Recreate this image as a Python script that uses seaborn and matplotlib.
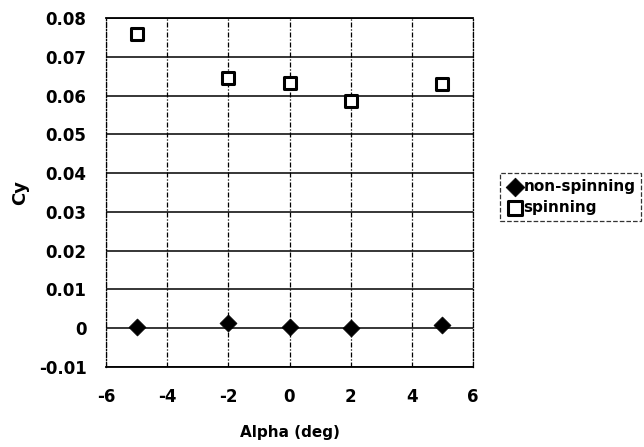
import matplotlib
matplotlib.use("Agg")
import matplotlib.pyplot as plt
import seaborn as sns
import pandas as pd

alpha = [-5, -2, 0, 2, 5]
cy_nonspin = [0.0003, 0.0014, 0.0002, 0.0000, 0.0009]
cy_spin = [0.0760, 0.0645, 0.0633, 0.0587, 0.0630]
series = ["non-spinning", "spinning"]
xticks = [-6, -4, -2, 0, 2, 4, 6]
yticks = [-0.01, 0, 0.01, 0.02, 0.03, 0.04, 0.05, 0.06, 0.07, 0.08]
ytick_labels = ["-0.01", "0", "0.01", "0.02", "0.03", "0.04", "0.05", "0.06", "0.07", "0.08"]

sns.set_style("white")
plt.rcParams["font.family"] = ["DejaVu Sans"]
plt.rcParams["font.weight"] = "bold"
plt.rcParams["text.color"] = "black"
plt.rcParams["xtick.color"] = "black"
plt.rcParams["ytick.color"] = "black"
plt.rcParams["axes.labelcolor"] = "black"

fig = plt.figure(figsize=(6.44, 4.47), dpi=100)
ax = fig.add_axes([106/644, 1 - 367/447, (473-106)/644, (367-18)/447])

df_ns = pd.DataFrame({"alpha": alpha, "cy": cy_nonspin, "series": series[0]})
df_s = pd.DataFrame({"alpha": alpha, "cy": cy_spin, "series": series[1]})

sns.scatterplot(data=df_ns, x="alpha", y="cy", marker="D", s=75, color="black",
                edgecolor="black", linewidth=0.5, label=series[0], ax=ax, zorder=5)
sns.scatterplot(data=df_s, x="alpha", y="cy", marker="s", s=85, facecolor="white",
                edgecolor="black", linewidth=2.2, label=series[1], ax=ax, zorder=5)

ax.set_xlim(-6, 6)
ax.set_ylim(-0.01, 0.08)
ax.set_xticks(xticks)
ax.set_xticklabels([str(t) for t in xticks])
ax.set_yticks(yticks)
ax.set_yticklabels(ytick_labels)
ax.tick_params(axis="y", labelsize=12, length=0, pad=14)
ax.tick_params(axis="x", labelsize=12, length=0, pad=15)
for lab in ax.get_xticklabels() + ax.get_yticklabels():
    lab.set_fontweight("bold")

dash = (0, (4, 1.5, 1, 1.5))
ax.yaxis.grid(True, color="black", linestyle="-", linewidth=1.1)
ax.xaxis.grid(True, color="black", linestyle=dash, linewidth=0.9)
ax.set_axisbelow(True)

for side in ["top", "bottom"]:
    ax.spines[side].set_color("black")
    ax.spines[side].set_linewidth(1.3)
for side in ["left", "right"]:
    ax.spines[side].set_color("black")
    ax.spines[side].set_linewidth(0.9)
    ax.spines[side].set_linestyle(dash)

ax.set_xlabel("Alpha (deg)", fontsize=11, fontweight="bold")
ax.set_ylabel("Cy", fontsize=13, fontweight="bold")
ax.xaxis.set_label_coords(0.5, (367 - 425) / 349)
ax.yaxis.set_label_coords((29 - 106) / 367, 0.5)

leg = ax.legend(loc="center left", bbox_to_anchor=(500/644, 1 - 197/447),
                bbox_transform=fig.transFigure, fontsize=11, frameon=True,
                fancybox=False, handletextpad=0.0, handlelength=1.2,
                borderpad=0.35, labelspacing=0.45, borderaxespad=0,
                markerscale=1.1)
leg.get_frame().set_edgecolor("black")
leg.get_frame().set_linewidth(0.9)
leg.get_frame().set_linestyle("--")
for t in leg.get_texts():
    t.set_fontweight("bold")
    t.set_color("black")

fig.savefig("out.png", dpi=100, facecolor="white")
